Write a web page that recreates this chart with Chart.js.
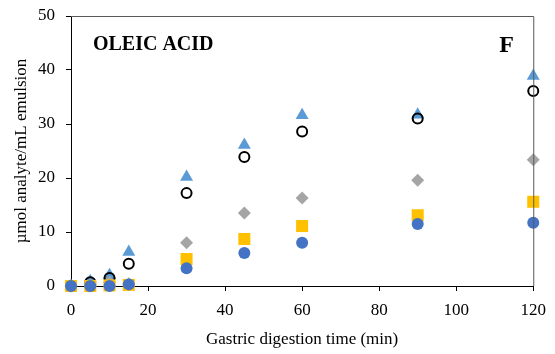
<!DOCTYPE html>
<html>
<head>
<meta charset="utf-8">
<script src="https://cdn.jsdelivr.net/npm/chart.js@4/dist/chart.umd.min.js"></script>
<style>
  html, body { margin: 0; padding: 0; background: #fff; }
  #wrap { width: 555px; height: 354px; }
</style>
</head>
<body>
<div id="wrap"><canvas id="chart" width="555" height="354"></canvas></div>
<script>
// Gastric digestion time (min)
const times = [0, 5, 10, 15, 30, 45, 60, 90, 120];

// µmol analyte/mL emulsion, one array per marker series
const seriesTriangle = [0, 0.9, 2.0, 6.3, 20.2, 26.1, 31.6, 31.7, 38.9];
const seriesOpenCircle = [0, 0.7, 1.5, 4.1, 17.2, 23.9, 28.6, 31.0, 36.1];
const seriesDiamond = [0, 0.2, 0.7, 0.4, 8.0, 13.5, 16.3, 19.6, 23.4];
const seriesSquare = [0, 0, 0.1, 0.2, 5.0, 8.7, 11.1, 13.1, 15.6];
const seriesCircle = [0, 0, 0, 0.3, 3.3, 6.1, 8.0, 11.5, 11.7];

const xTicks = [0, 20, 40, 60, 80, 100, 120];
const yTicks = [0, 10, 20, 30, 40, 50];

const panelTitle = 'OLEIC ACID';
const panelLetter = 'F';

const serif = "'Liberation Serif', 'Times New Roman', serif";

function toPoints(values) {
    return times.map((t, i) => ({ x: t, y: values[i] }));
}

// Function to draw the panel labels and the top/right frame
const panelPlugin = {
    id: 'panel',
    afterDraw(chart) {
        const ctx = chart.ctx;
        const area = chart.chartArea;
        const xs = chart.scales.x;
        const ys = chart.scales.y;

        ctx.save();
        ctx.strokeStyle = '#595959';
        ctx.lineWidth = 1;
        ctx.beginPath();
        ctx.moveTo(area.left, area.top + 0.5);
        ctx.lineTo(area.right + 0.5, area.top + 0.5);
        ctx.lineTo(area.right + 0.5, area.bottom);
        ctx.stroke();

        ctx.fillStyle = '#000';
        ctx.textBaseline = 'alphabetic';
        ctx.textAlign = 'left';
        ctx.font = 'bold 20px ' + serif;
        ctx.fillText(panelTitle, xs.getPixelForValue(5.7), ys.getPixelForValue(43.7));
        ctx.font = 'bold 24px ' + serif;
        ctx.fillText(panelLetter, xs.getPixelForValue(111.2), ys.getPixelForValue(43.3));
        ctx.restore();
    }
};

const ctx = document.getElementById('chart').getContext('2d');

new Chart(ctx, {
    type: 'scatter',
    data: {
        datasets: [
            {
                label: 'circle',
                data: toPoints(seriesCircle),
                pointStyle: 'circle',
                pointRadius: 6,
                pointBackgroundColor: '#4472C4',
                pointBorderWidth: 0,
                clip: false
            },
            {
                label: 'square',
                data: toPoints(seriesSquare),
                pointStyle: 'rect',
                pointRadius: 8.5,
                pointBackgroundColor: '#FFC000',
                pointBorderWidth: 0,
                clip: false
            },
            {
                label: 'diamond',
                data: toPoints(seriesDiamond),
                pointStyle: 'rectRot',
                pointRadius: 6.5,
                pointBackgroundColor: '#A5A5A5',
                pointBorderWidth: 0,
                clip: false
            },
            {
                label: 'open circle',
                data: toPoints(seriesOpenCircle),
                pointStyle: 'circle',
                pointRadius: 5,
                pointBackgroundColor: 'rgba(0,0,0,0)',
                pointBorderColor: '#000',
                pointBorderWidth: 2,
                clip: false
            },
            {
                label: 'triangle',
                data: toPoints(seriesTriangle),
                pointStyle: 'triangle',
                pointRadius: 7.5,
                pointBackgroundColor: '#5B9BD5',
                pointBorderWidth: 0,
                clip: false
            }
        ]
    },
    options: {
        responsive: false,
        animation: false,
        events: [],
        layout: {
            padding: { top: 16, right: 20, left: 0, bottom: 0 }
        },
        plugins: {
            legend: { display: false },
            tooltip: { enabled: false }
        },
        scales: {
            x: {
                type: 'linear',
                min: 0,
                max: 120,
                afterBuildTicks: (scale) => { scale.ticks = xTicks.map(v => ({ value: v })); },
                afterFit: (scale) => { scale.height = 68; },
                grid: {
                    drawOnChartArea: false,
                    drawTicks: true,
                    tickLength: 5,
                    color: '#000'
                },
                border: { color: '#000', width: 1 },
                ticks: {
                    padding: 9,
                    color: '#000',
                    font: { family: serif, size: 17 }
                },
                title: {
                    display: true,
                    text: 'Gastric digestion time (min)',
                    color: '#000',
                    font: { family: serif, size: 17 },
                    padding: { top: 0, bottom: 4 }
                }
            },
            y: {
                type: 'linear',
                min: 0,
                max: 50,
                afterBuildTicks: (scale) => { scale.ticks = yTicks.map(v => ({ value: v })); },
                afterFit: (scale) => {
                    scale.width = 71;
                    scale.paddingTop = 0;
                    scale.paddingBottom = 0;
                },
                grid: {
                    drawOnChartArea: false,
                    drawTicks: true,
                    tickLength: 5,
                    color: '#000'
                },
                border: { color: '#000', width: 1 },
                ticks: {
                    padding: 11,
                    color: '#000',
                    font: { family: serif, size: 17 }
                },
                title: {
                    display: true,
                    text: 'µmol analyte/mL emulsion',
                    color: '#000',
                    font: { family: serif, size: 17 },
                    padding: { top: 11, bottom: 0 }
                }
            }
        }
    },
    plugins: [panelPlugin]
});
</script>
</body>
</html>
